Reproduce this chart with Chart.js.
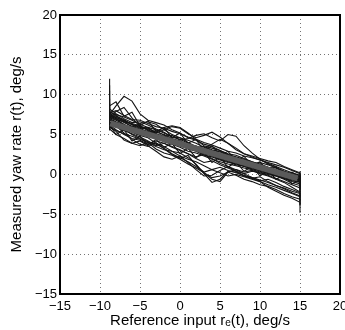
<!DOCTYPE html>
<html>
<head>
<meta charset="utf-8">
<script src="https://cdn.jsdelivr.net/npm/chart.js@4/dist/chart.umd.min.js"></script>
<style>
  html, body { margin: 0; padding: 0; background: #fff; }
  #wrap { width: 345px; height: 330px; }
</style>
</head>
<body>
<div id="wrap"><canvas id="myChart"></canvas></div>
<script>
// reference input r_e(t) samples shared by every run
let xs = [-8.8, -8.8, -8, -7, -6, -5, -4, -3, -2, -1, 0, 1, 2, 3, 4, 5, 6, 7, 8, 9, 10, 11, 12, 13, 14, 15, 15];

// measured yaw rate for each run
let runs = [
  [12.0, 7.5, 8.6, 9.8, 9.2, 7.6, 6.8, 6.5, 6.2, 5.6, 5.2, 4.6, 4.3, 3.8, 3.5, 3.0, 2.6, 2.4, 2.0, 1.6, 1.3, 0.9, 0.8, 0.3, 0.0, -0.6, -1.5],
  [9.5, 7.0, 7.9, 8.4, 7.1, 6.0, 5.8, 5.3, 5.9, 6.1, 5.9, 5.2, 4.4, 3.6, 3.3, 3.0, 2.5, 2.0, 1.7, 1.5, 1.0, 0.7, 0.4, 0.1, -0.3, -0.8, -2.0],
  [6.0, 6.5, 6.1, 5.2, 4.4, 3.8, 3.5, 4.0, 3.2, 2.5, 2.0, 2.4, 1.2, 0.2, -0.6, -0.9, 0.3, 0.6, 0.1, -0.4, -0.8, -0.6, -1.0, -1.5, -1.9, -2.3, -2.5],
  [8.0, 7.2, 6.9, 6.6, 6.0, 5.7, 5.9, 5.1, 4.8, 4.9, 4.3, 4.5, 4.9, 5.1, 4.6, 4.2, 5.0, 4.8, 3.6, 2.7, 1.9, 1.3, 0.9, 0.4, 0.1, -0.2, -1.0],
  [7.0, 6.8, 6.3, 5.8, 5.3, 4.9, 4.6, 3.9, 3.5, 2.9, 2.7, 2.1, 1.3, 0.1, -1.0, -0.6, 0.4, 0.3, -0.2, -0.5, -0.9, -1.6, -2.1, -2.6, -3.0, -3.5, -4.8],
  [7.6, 7.9, 7.4, 6.7, 6.4, 6.1, 5.6, 5.0, 4.6, 4.0, 3.8, 3.3, 3.6, 3.0, 2.6, 2.3, 1.8, 1.5, 1.2, 1.0, 0.6, 0.2, -0.1, -0.4, -0.7, -0.9, -1.8],
  [5.8, 6.2, 5.6, 5.0, 4.5, 4.3, 3.8, 4.2, 3.9, 3.4, 3.0, 2.6, 2.2, 2.5, 2.0, 1.4, 1.0, 0.6, 0.3, 0.5, 0.1, -0.2, -0.6, -1.0, -1.6, -2.2, -3.0],
  [8.8, 7.4, 7.0, 6.2, 5.9, 6.4, 6.6, 6.3, 5.6, 5.0, 4.6, 4.0, 3.5, 3.2, 3.8, 4.4, 3.9, 3.1, 2.6, 2.2, 1.8, 1.4, 1.0, 0.6, 0.2, -0.1, -0.9],
  [6.6, 6.0, 5.4, 4.3, 3.9, 4.2, 3.6, 2.9, 2.2, 1.9, 2.3, 1.5, 0.6, -0.2, -0.1, 0.5, 1.0, 0.4, -0.2, -0.5, -0.3, -0.9, -1.4, -1.7, -2.1, -2.4, -2.8],
  [7.3, 7.1, 6.8, 6.3, 5.7, 5.4, 5.2, 5.5, 4.9, 4.3, 4.1, 3.7, 3.0, 2.8, 2.5, 2.1, 2.4, 2.0, 1.6, 1.3, 1.5, 1.2, 0.8, 0.4, 0.0, -0.4, -1.2],
  [10.5, 8.2, 7.6, 7.0, 6.5, 6.6, 6.2, 5.7, 5.3, 4.7, 4.4, 3.9, 3.4, 3.5, 3.1, 2.8, 2.4, 1.9, 1.8, 1.5, 1.1, 0.8, 0.5, 0.3, -0.1, -0.3, -0.6],
  [6.2, 6.4, 6.0, 5.5, 5.1, 4.7, 4.2, 3.6, 3.9, 3.5, 3.1, 2.6, 2.0, 1.5, 1.7, 1.2, 0.8, 0.4, 0.1, 0.4, 0.2, -0.1, -0.5, -0.9, -1.3, -1.7, -2.2],
  [7.9, 7.6, 7.3, 6.9, 6.2, 5.8, 5.3, 4.9, 4.5, 4.2, 3.6, 3.2, 2.9, 2.4, 2.2, 1.8, 1.5, 1.4, 1.0, 0.7, 0.5, 0.2, -0.1, -0.5, -0.8, -1.0, -1.6],
  [6.8, 6.9, 6.5, 6.1, 5.9, 5.2, 4.8, 4.6, 4.1, 3.8, 3.4, 2.9, 2.7, 2.3, 1.9, 1.6, 1.3, 1.1, 0.8, 0.6, 0.3, 0.0, -0.2, -0.6, -1.1, -1.4, -3.5],
  [8.4, 7.8, 7.5, 7.2, 6.8, 6.3, 5.9, 5.6, 5.2, 4.7, 4.6, 4.3, 3.9, 3.4, 3.0, 2.9, 2.5, 2.2, 1.9, 1.6, 1.2, 0.9, 0.6, 0.2, -0.2, -0.5, 0.4],
  [5.5, 5.9, 5.5, 5.1, 4.8, 4.4, 4.0, 3.5, 3.1, 2.9, 2.3, 1.9, 1.6, 1.1, 0.6, 0.2, -0.2, 0.0, -0.3, -0.6, -0.9, -1.3, -1.6, -2.0, -2.4, -2.8, -3.8],
  [7.1, 7.3, 7.0, 6.5, 6.0, 5.6, 5.4, 5.1, 4.6, 4.4, 3.9, 3.6, 3.2, 2.7, 2.4, 2.0, 1.7, 1.3, 1.0, 0.8, 0.4, 0.1, -0.2, -0.5, -0.9, -1.2, -2.0],
  [9.0, 7.7, 8.0, 7.4, 6.9, 6.8, 6.4, 6.0, 5.8, 5.4, 5.1, 4.7, 4.4, 4.0, 3.7, 3.3, 2.9, 2.7, 2.3, 2.1, 1.8, 1.5, 1.2, 0.9, 0.5, 0.1, -0.4],
  [6.4, 6.6, 6.2, 5.7, 5.0, 4.5, 4.1, 3.8, 3.3, 2.6, 2.1, 1.6, 1.0, 0.3, 0.6, 0.9, 0.5, 0.2, -0.1, -0.4, -0.7, -1.0, -1.4, -1.8, -2.3, -2.7, -3.3],
  [7.7, 7.5, 7.1, 6.8, 6.3, 6.0, 5.5, 5.2, 5.6, 6.0, 5.8, 5.1, 4.6, 4.9, 5.3, 4.7, 3.9, 3.3, 2.6, 2.3, 2.0, 1.7, 1.5, 1.0, 0.6, 0.2, -0.8],
  [6.9, 7.0, 6.6, 6.2, 5.8, 5.5, 5.1, 4.7, 4.3, 3.9, 3.7, 3.4, 3.0, 2.6, 2.3, 1.9, 1.6, 1.2, 1.1, 0.9, 0.6, 0.3, 0.1, -0.3, -0.6, -0.9, -1.4],
  [8.2, 7.4, 7.2, 6.6, 6.3, 5.9, 5.7, 5.3, 5.0, 4.5, 4.2, 3.8, 3.5, 3.1, 2.7, 2.5, 2.2, 1.8, 1.4, 1.1, 0.8, 0.5, 0.3, 0.0, -0.4, -0.7, -1.3],
  [7.4, 6.2, 5.0, 5.6, 4.2, 4.8, 3.7, 4.4, 3.4, 3.9, 2.6, 3.3, 2.1, 2.8, 1.5, 2.2, 0.9, 1.6, 0.4, 1.0, -0.2, 0.5, -0.6, -0.1, -1.2, -0.7, -2.6],
  [11.2, 8.6, 9.1, 7.3, 7.8, 6.1, 6.7, 5.4, 5.9, 4.6, 5.2, 3.9, 4.4, 3.0, 3.6, 2.4, 2.9, 1.7, 2.3, 1.1, 1.6, 0.4, 1.0, -0.2, 0.3, -0.4, -1.9],
  [6.1, 5.7, 5.0, 4.5, 3.9, 3.6, 4.0, 3.2, 2.7, 2.4, 1.9, 1.3, 0.8, 0.2, -0.4, -0.2, 0.3, -0.1, -0.6, -0.9, -1.3, -1.5, -1.9, -2.4, -2.8, -3.1, -3.9]
];

// fitted line (thick grey)
let fitX = [-8.7, 14.7];
let fitY = [6.4, -0.5];

let tickVals = [-15, -10, -5, 0, 5, 10, 15, 20];

function minus(v) {
  return String(v).replace("-", "\u2212");
}

let datasets = runs.map((ys) => ({
  data: ys.map((y, i) => ({ x: xs[i], y: y })),
  borderColor: "#141414",
  borderWidth: 1.1,
  pointRadius: 0,
  showLine: true,
  order: 1,
}));

datasets.push({
  data: fitX.map((x, i) => ({ x: x, y: fitY[i] })),
  borderColor: "#5a5a5a",
  borderWidth: 6,
  pointRadius: 0,
  showLine: true,
  order: 0,
});

const frame = {
  id: "frame",
  afterDatasetsDraw(chart) {
    const a = chart.chartArea;
    const ctx = chart.ctx;
    ctx.save();
    ctx.strokeStyle = "#000";
    ctx.lineWidth = 2;
    ctx.strokeRect(a.left, a.top, a.right - a.left, a.bottom - a.top);
    ctx.restore();
  },
};

const font = { family: "'Liberation Sans', Arial, sans-serif", size: 13 };

new Chart(document.getElementById("myChart"), {
  type: "scatter",
  data: { datasets: datasets },
  plugins: [frame],
  options: {
    responsive: true,
    maintainAspectRatio: false,
    animation: false,
    layout: { padding: { top: 15, right: 5, left: 0, bottom: 0 } },
    plugins: { legend: { display: false }, tooltip: { enabled: false } },
    scales: {
      x: {
        type: "linear",
        min: -15,
        max: 20,
        afterBuildTicks: (s) => { s.ticks = tickVals.map((v) => ({ value: v })); },
        afterFit: (s) => { s.height = 36; s.paddingLeft = 0; s.paddingRight = 0; },
        ticks: {
          color: "#000",
          font: font,
          padding: 5,
          maxRotation: 0,
          autoSkip: false,
          callback: (v) => minus(v),
        },
        grid: { color: "rgba(0,0,0,0.55)", lineWidth: 1, drawTicks: false },
        border: { display: false, dash: [1, 3] },
        title: {
          display: true,
          text: "Reference input r\u2091(t), deg/s",
          color: "#000",
          font: { family: font.family, size: 15 },
          padding: { top: 0, bottom: 0 },
        },
      },
      y: {
        type: "linear",
        min: -15,
        max: 20,
        afterBuildTicks: (s) => { s.ticks = tickVals.map((v) => ({ value: v })); },
        afterFit: (s) => { s.width = 60; s.paddingTop = 0; s.paddingBottom = 0; },
        ticks: {
          color: "#000",
          font: font,
          padding: 3,
          autoSkip: false,
          callback: (v) => minus(v),
        },
        grid: { color: "rgba(0,0,0,0.55)", lineWidth: 1, drawTicks: false },
        border: { display: false, dash: [1, 3] },
        title: {
          display: true,
          text: "Measured yaw rate r(t), deg/s",
          color: "#000",
          font: { family: font.family, size: 15 },
          padding: { top: 8, bottom: 0 },
        },
      },
    },
  },
});
</script>
</body>
</html>
